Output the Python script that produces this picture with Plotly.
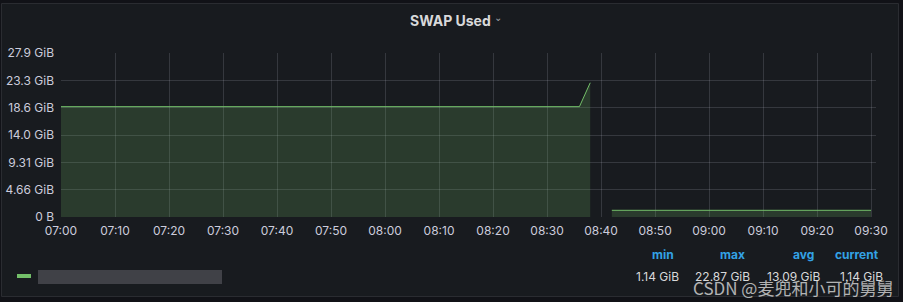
import plotly.graph_objects as go

# Data (GiB)
times_a = ["2023-01-01 07:00", "2023-01-01 08:36", "2023-01-01 08:38"]
swap_a = [18.8, 18.8, 22.87]
times_b = ["2023-01-01 08:42", "2023-01-01 09:30"]
swap_b = [1.14, 1.14]

y_tickvals = [0, 4.66, 9.31, 13.97, 18.63, 23.28, 27.94]
y_ticktext = ["0 B", "4.66 GiB", "9.31 GiB", "14.0 GiB", "18.6 GiB", "23.3 GiB", "27.9 GiB"]
x_tickvals = ["2023-01-01 07:00", "2023-01-01 07:10", "2023-01-01 07:20", "2023-01-01 07:30",
              "2023-01-01 07:40", "2023-01-01 07:50", "2023-01-01 08:00", "2023-01-01 08:10",
              "2023-01-01 08:20", "2023-01-01 08:30", "2023-01-01 08:40", "2023-01-01 08:50",
              "2023-01-01 09:00", "2023-01-01 09:10", "2023-01-01 09:20", "2023-01-01 09:30"]
x_ticktext = ["07:00", "07:10", "07:20", "07:30", "07:40", "07:50", "08:00", "08:10", "08:20",
              "08:30", "08:40", "08:50", "09:00", "09:10", "09:20", "09:30"]

stat_names = ["min", "max", "avg", "current"]
stat_values = ["1.14 GiB", "22.87 GiB", "13.09 GiB", "1.14 GiB"]
stat_hdr_center_px = [663, 732, 803, 857]
stat_right_px = [681, 752, 822, 885]

W, H = 903, 302
L, R, T, B = 61, 27, 53, 85
PW, PH = W - L - R, H - T - B

fig = go.Figure()
for xs, ys in ((times_a, swap_a), (times_b, swap_b)):
    fig.add_trace(go.Scatter(
        x=xs, y=ys, mode="lines",
        line=dict(color="#73BF69", width=1),
        fill="tozeroy", fillcolor="rgba(115,191,105,0.2)",
        showlegend=False, hoverinfo="skip",
    ))

def px_x(px):
    return (px - L) / PW

def px_y(py):
    return (H - B - py) / PH

annotations = []
annotations.append(dict(text="<b>SWAP Used</b>", x=px_x(450), y=px_y(20), xref="paper", yref="paper",
                        showarrow=False, xanchor="center", yanchor="middle",
                        font=dict(family="Inter", size=14, color="#d8d9da")))
annotations.append(dict(text="⌄", x=px_x(498), y=px_y(17), xref="paper", yref="paper",
                        showarrow=False, xanchor="center", yanchor="middle",
                        font=dict(family="DejaVu Sans", size=10, color="#9fa1a6")))
for name, val, cx, rx in zip(stat_names, stat_values, stat_hdr_center_px, stat_right_px):
    annotations.append(dict(text="<b>%s</b>" % name, x=px_x(cx), y=px_y(254),
                            xref="paper", yref="paper", showarrow=False,
                            xanchor="center", yanchor="middle",
                            font=dict(family="Inter", size=12, color="#33A2E5")))
    annotations.append(dict(text=val, x=px_x(rx), y=px_y(276), xref="paper", yref="paper",
                            showarrow=False, xanchor="right", yanchor="middle",
                            font=dict(family="Inter", size=12, color="#d8d9da")))
annotations.append(dict(text="CSDN @麦兜和小可的舅舅", x=px_x(895), y=px_y(287),
                        xref="paper", yref="paper", showarrow=False,
                        xanchor="right", yanchor="middle",
                        font=dict(family="Noto Sans CJK SC", size=17,
                                  color="rgba(230,230,230,0.75)")))

shapes = [
    dict(type="rect", xref="paper", yref="paper", x0=px_x(1.5), x1=px_x(898.5),
         y0=px_y(296.5), y1=px_y(3.5), line=dict(color="#2a2c31", width=1),
         fillcolor="#181b1f", layer="below"),
    dict(type="line", xref="paper", yref="paper", x0=px_x(17), x1=px_x(31),
         y0=px_y(276), y1=px_y(276), line=dict(color="#73BF69", width=4)),
    dict(type="rect", xref="paper", yref="paper", x0=px_x(38), x1=px_x(222),
         y0=px_y(284), y1=px_y(270), line=dict(width=0),
         fillcolor="#404147", layer="above"),
]

fig.update_layout(
    width=W, height=H,
    margin=dict(l=L, r=R, t=T, b=B, autoexpand=False),
    paper_bgcolor="#111217",
    plot_bgcolor="rgba(0,0,0,0)",
    annotations=annotations,
    shapes=shapes,
    xaxis=dict(
        type="date",
        range=["2023-01-01 07:00", "2023-01-01 09:30:55"],
        tickvals=x_tickvals, ticktext=x_ticktext,
        showgrid=True, gridcolor="rgba(204,204,220,0.17)", gridwidth=1,
        zeroline=False, showline=False, ticks="",
        tickfont=dict(family="Inter", size=12, color="#ccccdc"),
        ticklabelstandoff=5, automargin=False,
        fixedrange=True,
    ),
    yaxis=dict(
        range=[0, 27.94],
        tickvals=y_tickvals, ticktext=y_ticktext,
        showgrid=True, gridcolor="rgba(204,204,220,0.17)", gridwidth=1,
        zeroline=False, showline=False, ticks="",
        tickfont=dict(family="Inter", size=12, color="#ccccdc"),
        ticklabelstandoff=6, automargin=False,
        fixedrange=True,
    ),
)

fig.write_html("out.html", config={"displayModeBar": False})
